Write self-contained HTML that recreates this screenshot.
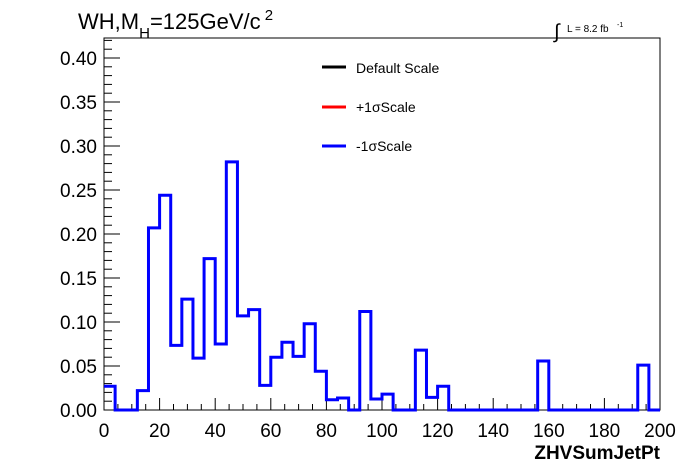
<!DOCTYPE html>
<html><head><meta charset="utf-8"><style>
body{margin:0;background:#fff;}
svg{display:block;font-family:"Liberation Sans",sans-serif;}
</style></head><body>
<svg id="c" width="696" height="472">
<text x="78" y="29" font-size="22">WH,M<tspan font-size="15" dy="9">H</tspan><tspan dy="-9">=125GeV/c</tspan><tspan font-size="15" dy="-9"> 2</tspan></text>
<g>
<text x="554" y="38" font-size="20">∫</text>
<text x="567" y="32" font-size="10">L = 8.2 fb</text><text x="617" y="27" font-size="7">-1</text>
</g>
<rect x="104" y="38" width="556" height="372" fill="none" stroke="#000" stroke-width="1"/>
<g id="axes"></g>
<path id="hist" fill="none" stroke="#0000ff" stroke-width="3"/>
<g>
<g><line x1="322" y1="67" x2="346" y2="67" stroke="#000" stroke-width="3"/><text x="356" y="73" font-size="14">Default Scale</text></g>
<g><line x1="322" y1="107" x2="346" y2="107" stroke="#ff0000" stroke-width="3"/><text x="356" y="112" font-size="14">+1σScale</text></g>
<g><line x1="322" y1="146" x2="346" y2="146" stroke="#0000ff" stroke-width="3"/><text x="356" y="151" font-size="14">-1σScale</text></g>
</g>
<text x="660" y="459" font-size="19" font-weight="bold" text-anchor="end">ZHVSumJetPt</text>
</svg>
<script>
const binWidth = 4;
const values = [0.027,0,0,0.022,0.207,0.244,0.0735,0.126,0.059,0.172,0.075,0.282,0.107,0.114,0.028,0.060,0.077,0.061,0.098,0.044,0.0117,0.0136,0,0.112,0.0125,0.018,0,0,0.068,0.0144,0.027,0,0,0,0,0,0,0,0,0.0557,0,0,0,0,0,0,0,0,0.051,0];
const xTicks = [0,20,40,60,80,100,120,140,160,180,200];
const yTicks = ["0.00","0.05","0.10","0.15","0.20","0.25","0.30","0.35","0.40"];
const ns="http://www.w3.org/2000/svg";
const X0=104,X1=660,Y0=410,Ytop=38;
const xs=v=>X0+(v/200)*(X1-X0);
const ys=v=>Y0-v*880;
const ax=document.getElementById('axes');
function mk(tag,attrs){const e=document.createElementNS(ns,tag);for(const k in attrs)e.setAttribute(k,attrs[k]);return e;}
for(let v=0;v<=200;v+=5){
  const major=v%20===0;
  const t=mk('line',{x1:xs(v),x2:xs(v),y1:Y0,y2:Y0-(major?12:6),stroke:'#000'});
  
  
  ax.appendChild(t);
}
xTicks.forEach(v=>{
  const t=mk('text',{x:xs(v),y:Y0+27,'font-size':19,'text-anchor':'middle'});
  t.textContent=v;
  
  
  ax.appendChild(t);
});
for(let i=0;i<=42;i++){
  const v=i*0.01;const major=i%5===0;
  const t=mk('line',{x1:X0,x2:X0+(major?16:8),y1:ys(v),y2:ys(v),stroke:'#000'});
  
  
  ax.appendChild(t);
}
yTicks.forEach(s=>{
  const t=mk('text',{x:97,y:ys(parseFloat(s))+7,'font-size':19,'text-anchor':'end'});
  t.textContent=s;
  
  
  ax.appendChild(t);
});
let d='M'+xs(0)+','+ys(values[0]);
values.forEach((v,i)=>{
  if(i>0)d+=' L'+xs(i*binWidth)+','+ys(v);
  d+=' L'+xs((i+1)*binWidth)+','+ys(v);
});
document.getElementById('hist').setAttribute('d',d);
</script>
</body></html>
